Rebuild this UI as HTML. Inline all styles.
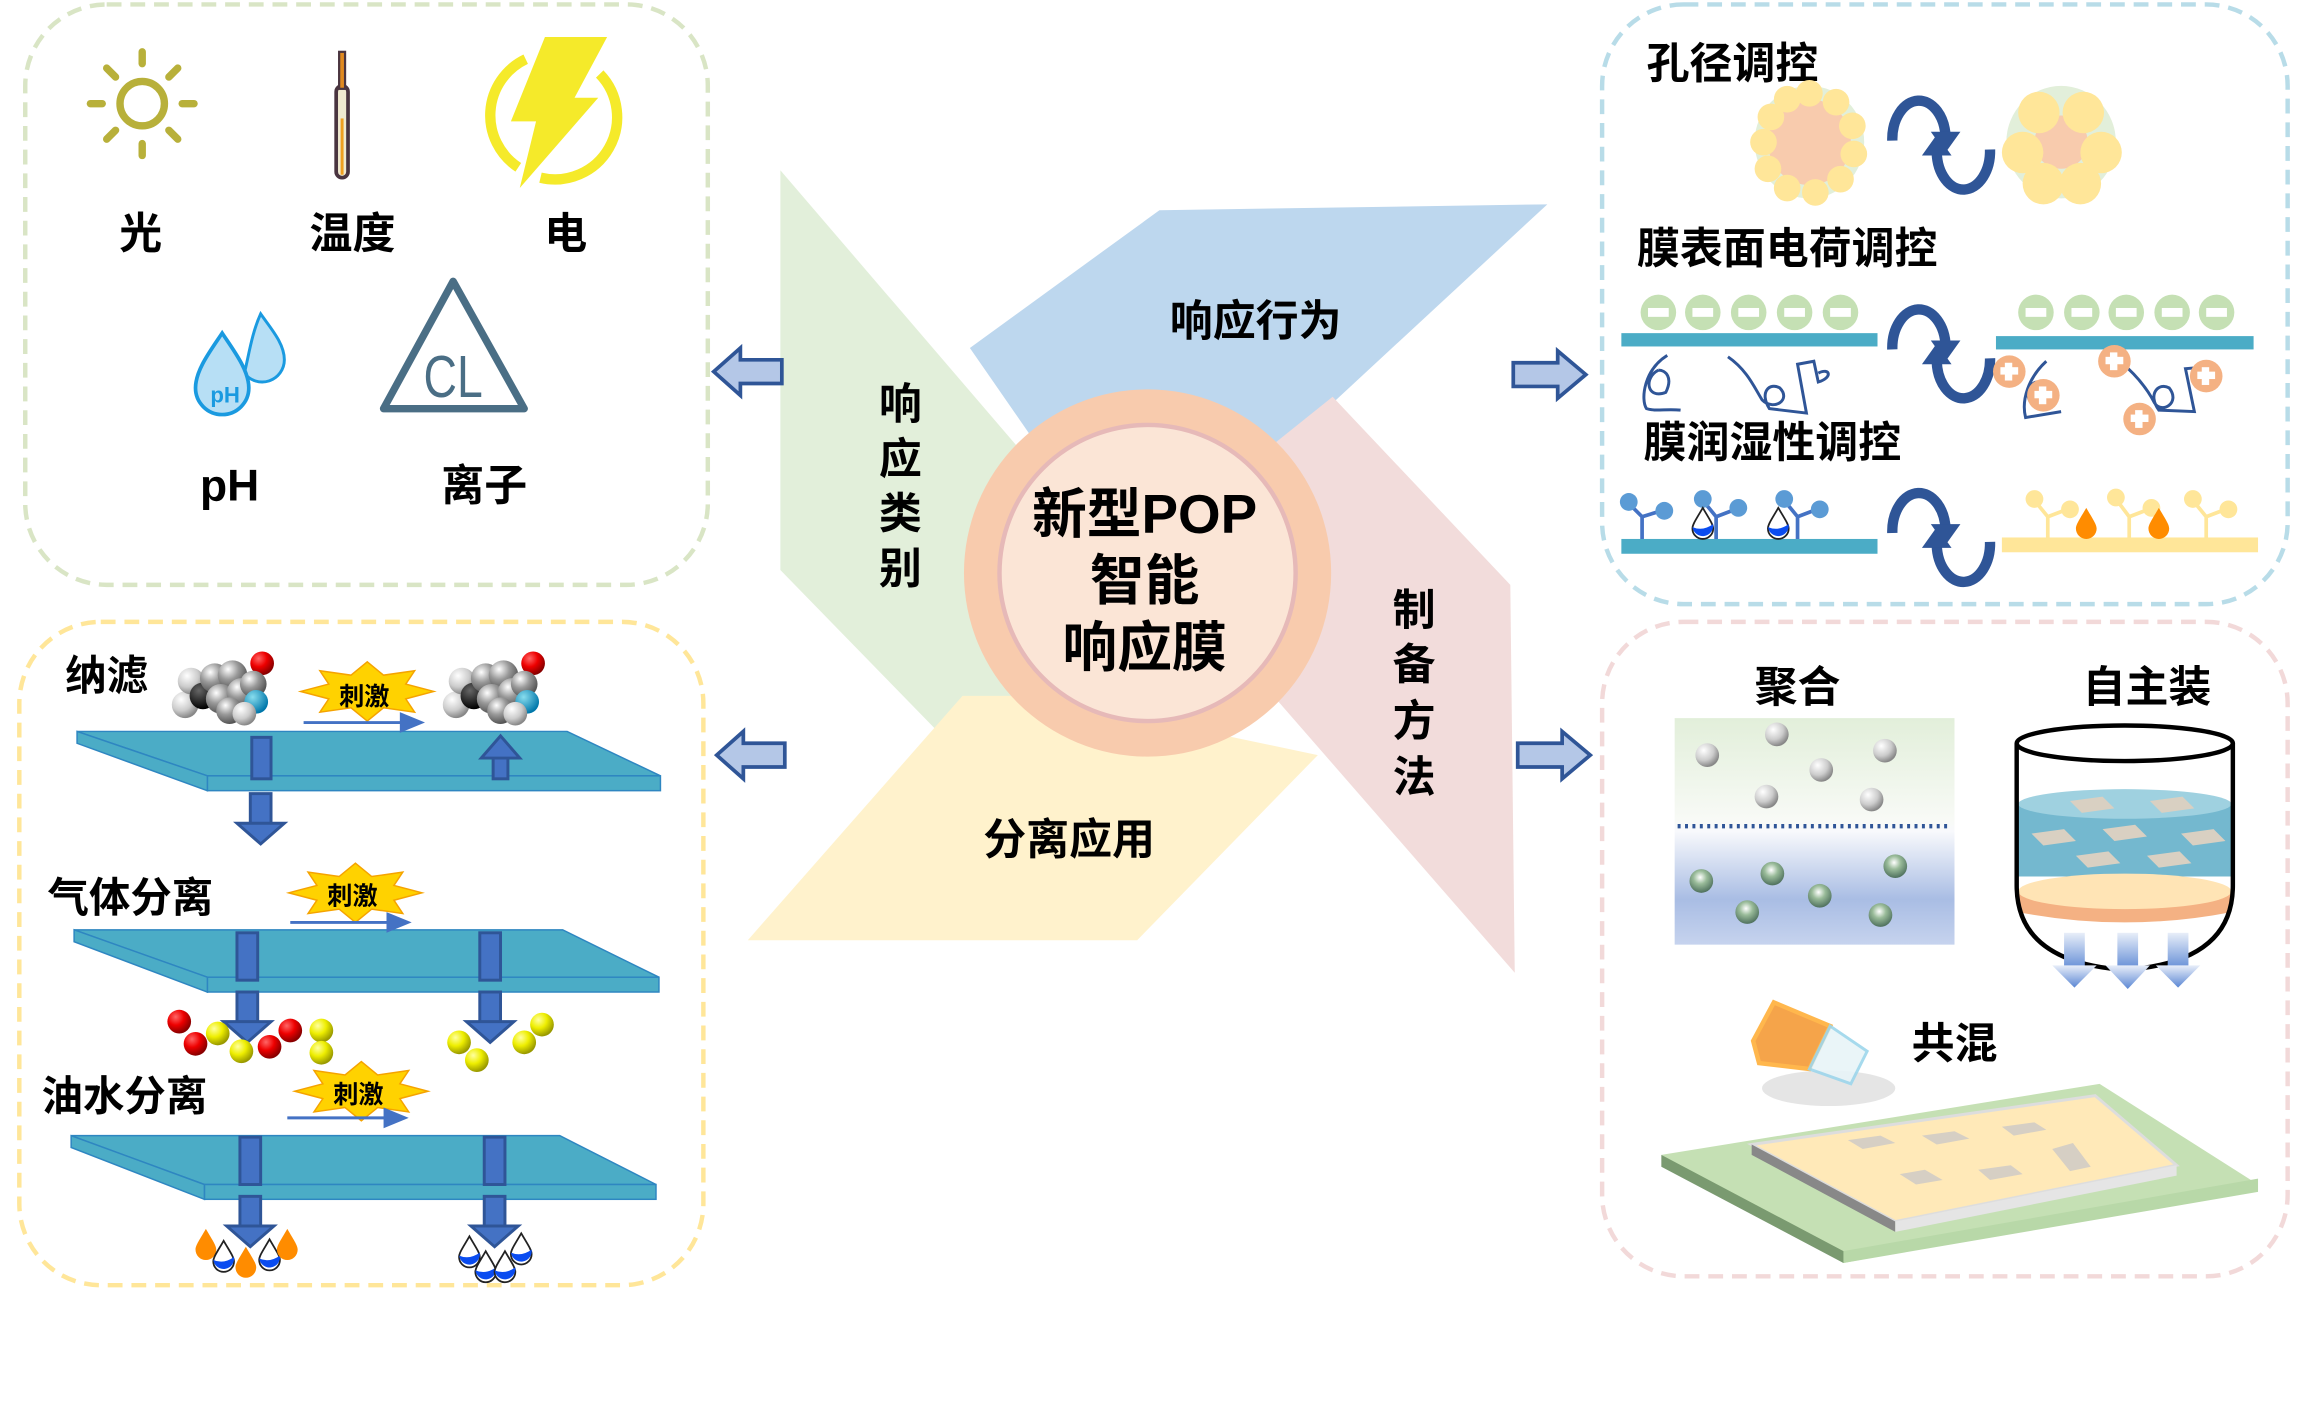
<!DOCTYPE html>
<html><head><meta charset="utf-8">
<style>
html,body{margin:0;padding:0;background:#fff;}
svg{display:block;}
text{font-family:"Liberation Sans","Noto Sans CJK SC",sans-serif;font-weight:bold;fill:#000;}
</style></head>
<body>
<svg width="2304" height="1414" viewBox="0 0 1556 955" xmlns="http://www.w3.org/2000/svg">
<defs>
<radialGradient id="gs" cx="35%" cy="30%" r="70%"><stop offset="0" stop-color="#fff"/><stop offset="0.5" stop-color="#999"/><stop offset="1" stop-color="#555"/></radialGradient>
<radialGradient id="gw" cx="35%" cy="30%" r="70%"><stop offset="0" stop-color="#fff"/><stop offset="0.6" stop-color="#ccc"/><stop offset="1" stop-color="#888"/></radialGradient>
<radialGradient id="gk" cx="35%" cy="30%" r="70%"><stop offset="0" stop-color="#666"/><stop offset="1" stop-color="#000"/></radialGradient>
<radialGradient id="gr" cx="35%" cy="30%" r="70%"><stop offset="0" stop-color="#f66"/><stop offset="0.5" stop-color="#e00"/><stop offset="1" stop-color="#800"/></radialGradient>
<radialGradient id="gy" cx="35%" cy="30%" r="70%"><stop offset="0" stop-color="#ffffa0"/><stop offset="0.5" stop-color="#ee0"/><stop offset="1" stop-color="#990"/></radialGradient>
<radialGradient id="gb" cx="35%" cy="30%" r="70%"><stop offset="0" stop-color="#8de"/><stop offset="1" stop-color="#07a"/></radialGradient>
<radialGradient id="gg" cx="45%" cy="35%" r="70%"><stop offset="0" stop-color="#fff"/><stop offset="0.4" stop-color="#9b9"/><stop offset="1" stop-color="#465"/></radialGradient>
<linearGradient id="pg" x1="0" y1="0" x2="0" y2="1"><stop offset="0" stop-color="#e2efda"/><stop offset="0.45" stop-color="#f8faf6"/><stop offset="0.5" stop-color="#f8f9fc"/><stop offset="0.8" stop-color="#a9bde4"/><stop offset="1" stop-color="#c6d3ee"/></linearGradient>
<linearGradient id="ag" x1="0" y1="0" x2="0" y2="1"><stop offset="0" stop-color="#e8eef9"/><stop offset="1" stop-color="#5b87d4"/></linearGradient>
<g id="star"><polygon points="45,0 26,5 32,14 11,11 0,20 -11,11 -32,14 -26,5 -45,0 -26,-5 -32,-14 -11,-11 0,-20 11,-11 32,-14 26,-5" fill="#ffd200" stroke="#f5a300" stroke-width="1"/></g>
<g id="cyc" fill="none" stroke="#2f5597" stroke-width="7">
<path d="M-32,-2 A18,26 0 0 1 4,-4"/><polygon points="-6,-8 14,-8 4,6" fill="#2f5597" stroke="none"/>
<path d="M34,4 A18,26 0 0 1 -2,6"/><polygon points="-12,8 8,8 -2,-6" fill="#2f5597" stroke="none"/>
</g>
<g id="dar"><rect x="-7" y="0" width="14" height="22" fill="#4472c4" stroke="#2f5597" stroke-width="2"/><polygon points="-16,20 16,20 0,34" fill="#4472c4" stroke="#2f5597" stroke-width="2"/></g>
<g id="mol">
<circle cx="-28" cy="10" r="9" fill="url(#gw)"/><circle cx="-24" cy="-6" r="9" fill="url(#gw)"/>
<circle cx="-16" cy="4" r="9" fill="url(#gk)"/>
<circle cx="-8" cy="-8" r="10" fill="url(#gs)"/><circle cx="4" cy="-10" r="10" fill="url(#gs)"/><circle cx="-4" cy="6" r="10" fill="url(#gs)"/><circle cx="10" cy="2" r="10" fill="url(#gs)"/><circle cx="2" cy="14" r="9" fill="url(#gs)"/>
<circle cx="24" cy="-18" r="8" fill="url(#gr)"/><circle cx="18" cy="-4" r="9" fill="url(#gs)"/><circle cx="20" cy="8" r="8" fill="url(#gb)"/><circle cx="12" cy="16" r="8" fill="url(#gw)"/>
</g>
<g id="wdrop"><path d="M0,-10 C4,-3 7,1 7,4 A7,7 0 0 1 -7,4 C-7,1 -4,-3 0,-10Z" fill="#fff" stroke="#222" stroke-width="1.2"/><path d="M-7,3 Q0,6 7,1 A7,7 0 0 1 -7,3Z" fill="#0a4cf0"/></g>
<g id="odrop"><path d="M0,-10 C4,-3 7,1 7,4 A7,7 0 0 1 -7,4 C-7,1 -4,-3 0,-10Z" fill="#ff8c00"/></g>
</defs>

<!-- dashed boxes -->
<rect x="17" y="3" width="461" height="392" rx="55" fill="none" stroke="#d9e5c5" stroke-width="3" stroke-dasharray="10,6"/>
<rect x="1082" y="3" width="463" height="405" rx="55" fill="none" stroke="#b8dce8" stroke-width="3" stroke-dasharray="10,6"/>
<rect x="13" y="420" width="462" height="448" rx="55" fill="none" stroke="#ffe699" stroke-width="3" stroke-dasharray="10,6"/>
<rect x="1082" y="420" width="463" height="442" rx="55" fill="none" stroke="#f2d9d9" stroke-width="3" stroke-dasharray="10,6"/>

<!-- center pinwheel -->
<polygon points="527,115 690,305 690,510 644,505 527,385" fill="#e2efda"/>
<polygon points="783,142 1045,138 870,300 700,300 655,235" fill="#bdd7ee"/>
<polygon points="900,268 1020,395 1023,657 860,470 860,300" fill="#f2dcdb"/>
<polygon points="505,635 768,635 890,510 700,470 650,470" fill="#fff2cc"/>
<circle cx="775" cy="387" r="124" fill="#f8cbad"/>
<circle cx="775" cy="387" r="100" fill="#fbe5d6" stroke="#e6b9b8" stroke-width="3"/>
<text x="773" y="360" font-size="37" text-anchor="middle">新型POP</text>
<text x="773" y="405" font-size="37" text-anchor="middle">智能</text>
<text x="773" y="450" font-size="37" text-anchor="middle">响应膜</text>
<text x="848" y="227" font-size="29" text-anchor="middle">响应行为</text>
<text x="722" y="577" font-size="29" text-anchor="middle">分离应用</text>
<g font-size="29" text-anchor="middle"><text x="608" y="283">响</text><text x="608" y="320">应</text><text x="608" y="357">类</text><text x="608" y="394">别</text>
<text x="955" y="422">制</text><text x="955" y="459">备</text><text x="955" y="497">方</text><text x="955" y="535">法</text></g>

<!-- block arrows -->
<g fill="#b4c7e7" stroke="#2f5597" stroke-width="2.5">
<polygon points="528,243 500,243 500,235 482,251 500,267 500,259 528,259"/>
<polygon points="530,502 502,502 502,494 484,510 502,526 502,518 530,518"/>
<polygon points="1022,245 1052,245 1052,237 1071,253 1052,269 1052,261 1022,261"/>
<polygon points="1025,502 1055,502 1055,494 1074,510 1055,526 1055,518 1025,518"/>
</g>

<!-- top-left icons -->
<g stroke="#b8b03a" stroke-width="5" stroke-linecap="round" fill="none">
<circle cx="96" cy="70" r="15"/>
<line x1="96" y1="35" x2="96" y2="43"/><line x1="96" y1="97" x2="96" y2="105"/><line x1="61" y1="70" x2="69" y2="70"/><line x1="123" y1="70" x2="131" y2="70"/>
<line x1="72" y1="46" x2="78" y2="52"/><line x1="114" y1="88" x2="120" y2="94"/><line x1="120" y1="46" x2="114" y2="52"/><line x1="78" y1="88" x2="72" y2="94"/>
</g>
<rect x="227" y="58" width="8" height="62" rx="4" fill="#f0ead0" stroke="#4a3540" stroke-width="2.5"/>
<rect x="229" y="35" width="4" height="25" fill="#e08a20" stroke="#4a3540" stroke-width="1.5"/>
<rect x="230" y="80" width="2" height="38" fill="#f0a020"/>
<path d="M355,40 A42,42 0 0 0 350,113" fill="none" stroke="#f5ea2a" stroke-width="7"/>
<path d="M405,50 A42,42 0 0 1 365,120" fill="none" stroke="#f5ea2a" stroke-width="7"/>
<polygon points="368,25 410,25 388,66 404,66 351,127 362,82 345,82" fill="#f5ea2a"/>
<text x="95" y="168" font-size="29" text-anchor="middle">光</text>
<text x="238" y="168" font-size="29" text-anchor="middle">温度</text>
<text x="382" y="168" font-size="29" text-anchor="middle">电</text>
<path d="M176,212 C183,222 192,232 192,243 A15,15 0 0 1 165,252 C168,240 170,225 176,212Z" fill="#b7dff5" stroke="#1a9ae0" stroke-width="2"/>
<path d="M150,225 C158,237 168,250 168,262 A18,18 0 0 1 132,262 C132,250 142,237 150,225Z" fill="#b7dff5" stroke="#1a9ae0" stroke-width="2.5"/>
<text x="152" y="272" font-size="15" style="fill:#1a9ae0" text-anchor="middle">pH</text>
<polygon points="306,190 354,276 259,276" fill="none" stroke="#4a6e85" stroke-width="5" stroke-linejoin="round"/>
<text x="306" y="268" font-size="40" text-anchor="middle" style="fill:#4a6e85;font-weight:normal" textLength="40" lengthAdjust="spacingAndGlyphs">CL</text>
<text x="155" y="338" font-size="30" text-anchor="middle">pH</text>
<text x="327" y="338" font-size="29" text-anchor="middle">离子</text>

<!-- bottom-left -->
<text x="72" y="466" font-size="28" text-anchor="middle">纳滤</text>
<text x="88" y="616" font-size="28" text-anchor="middle">气体分离</text>
<text x="84" y="750" font-size="28" text-anchor="middle">油水分离</text>
<g fill="#4bacc6" stroke="#2e86c1" stroke-width="1">
<polygon points="52,494 383,494 446,524 140,524"/><rect x="140" y="524" width="306" height="10"/><polygon points="52,494 140,524 140,534 52,502"/>
<polygon points="50,628 380,628 445,660 140,660"/><rect x="140" y="660" width="305" height="10"/><polygon points="50,628 140,660 140,670 50,636"/>
<polygon points="48,767 378,767 443,800 138,800"/><rect x="138" y="800" width="305" height="10"/><polygon points="48,767 138,800 138,810 48,775"/>
</g>
<use href="#mol" x="153" y="466"/><use href="#mol" x="336" y="466"/>
<use href="#star" x="248" y="467"/><text x="246" y="476" font-size="17" text-anchor="middle">刺激</text>
<line x1="205" y1="488" x2="272" y2="488" stroke="#4472c4" stroke-width="2"/><polygon points="270,481 287,488 270,495" fill="#4472c4"/>
<use href="#star" x="240" y="603"/><text x="238" y="611" font-size="17" text-anchor="middle">刺激</text>
<line x1="196" y1="623" x2="263" y2="623" stroke="#4472c4" stroke-width="2"/><polygon points="261,616 278,623 261,630" fill="#4472c4"/>
<use href="#star" x="244" y="737"/><text x="242" y="745" font-size="17" text-anchor="middle">刺激</text>
<line x1="194" y1="755" x2="261" y2="755" stroke="#4472c4" stroke-width="2"/><polygon points="259,748 276,755 259,762" fill="#4472c4"/>
<rect x="170" y="498" width="13" height="28" fill="#4472c4" stroke="#2f5597" stroke-width="2"/>
<use href="#dar" x="176" y="536"/>
<g fill="#4472c4" stroke="#2f5597" stroke-width="2"><rect x="333" y="510" width="10" height="16"/><polygon points="325,512 351,512 338,497"/></g>
<rect x="160" y="630" width="14" height="32" fill="#4472c4" stroke="#2f5597" stroke-width="2"/><use href="#dar" x="167" y="670"/>
<rect x="324" y="630" width="14" height="32" fill="#4472c4" stroke="#2f5597" stroke-width="2"/><use href="#dar" x="331" y="670"/>
<rect x="162" y="768" width="14" height="32" fill="#4472c4" stroke="#2f5597" stroke-width="2"/><use href="#dar" x="169" y="808"/>
<rect x="327" y="768" width="14" height="32" fill="#4472c4" stroke="#2f5597" stroke-width="2"/><use href="#dar" x="334" y="808"/>
<g><circle cx="121" cy="690" r="8" fill="url(#gr)"/><circle cx="132" cy="705" r="8" fill="url(#gr)"/><circle cx="147" cy="698" r="8" fill="url(#gy)"/><circle cx="163" cy="710" r="8" fill="url(#gy)"/><circle cx="182" cy="707" r="8" fill="url(#gr)"/><circle cx="196" cy="696" r="8" fill="url(#gr)"/><circle cx="217" cy="696" r="8" fill="url(#gy)"/><circle cx="217" cy="711" r="8" fill="url(#gy)"/>
<circle cx="310" cy="704" r="8" fill="url(#gy)"/><circle cx="322" cy="716" r="8" fill="url(#gy)"/><circle cx="354" cy="704" r="8" fill="url(#gy)"/><circle cx="366" cy="692" r="8" fill="url(#gy)"/></g>
<use href="#odrop" x="139" y="840"/><use href="#wdrop" x="151" y="848"/><use href="#odrop" x="166" y="852"/><use href="#wdrop" x="182" y="847"/><use href="#odrop" x="194" y="840"/>
<use href="#wdrop" x="317" y="845"/><use href="#wdrop" x="328" y="855"/><use href="#wdrop" x="341" y="855"/><use href="#wdrop" x="352" y="843"/>

<!-- top-right -->
<text x="1170" y="53" font-size="29" text-anchor="middle">孔径调控</text>
<text x="1207" y="178" font-size="29" text-anchor="middle">膜表面电荷调控</text>
<text x="1197" y="309" font-size="29" text-anchor="middle">膜润湿性调控</text>
<ellipse cx="1222" cy="96" rx="37" ry="38" fill="#e2efda"/>
<ellipse cx="1222" cy="96" rx="28" ry="29" fill="#f8cbad"/>
<g fill="#ffe699"><circle cx="1222" cy="63" r="9"/><circle cx="1240" cy="69" r="9"/><circle cx="1251" cy="85" r="9"/><circle cx="1252" cy="104" r="9"/><circle cx="1243" cy="121" r="9"/><circle cx="1226" cy="130" r="9"/><circle cx="1207" cy="127" r="9"/><circle cx="1194" cy="114" r="9"/><circle cx="1191" cy="96" r="9"/><circle cx="1196" cy="79" r="9"/><circle cx="1207" cy="67" r="9"/></g>
<ellipse cx="1392" cy="96" rx="37" ry="38" fill="#e2efda"/>
<circle cx="1392" cy="96" r="18" fill="#f8cbad"/>
<g fill="#ffe699"><circle cx="1377" cy="76" r="14"/><circle cx="1407" cy="76" r="14"/><circle cx="1366" cy="103" r="14"/><circle cx="1419" cy="103" r="14"/><circle cx="1380" cy="124" r="14"/><circle cx="1405" cy="124" r="14"/></g>
<use href="#cyc" x="1310" y="97"/><use href="#cyc" x="1310" y="238"/><use href="#cyc" x="1310" y="362"/>
<rect x="1095" y="225" width="173" height="9" fill="#4bacc6"/>
<rect x="1348" y="227" width="174" height="9" fill="#4bacc6"/>
<g fill="#c5e0b4"><circle cx="1120" cy="211" r="12"/><circle cx="1150" cy="211" r="12"/><circle cx="1181" cy="211" r="12"/><circle cx="1212" cy="211" r="12"/><circle cx="1243" cy="211" r="12"/>
<circle cx="1375" cy="211" r="12"/><circle cx="1406" cy="211" r="12"/><circle cx="1436" cy="211" r="12"/><circle cx="1467" cy="211" r="12"/><circle cx="1497" cy="211" r="12"/></g>
<g fill="#fff"><rect x="1113" y="208" width="14" height="6"/><rect x="1143" y="208" width="14" height="6"/><rect x="1174" y="208" width="14" height="6"/><rect x="1205" y="208" width="14" height="6"/><rect x="1236" y="208" width="14" height="6"/>
<rect x="1368" y="208" width="14" height="6"/><rect x="1399" y="208" width="14" height="6"/><rect x="1429" y="208" width="14" height="6"/><rect x="1460" y="208" width="14" height="6"/><rect x="1490" y="208" width="14" height="6"/></g>
<g fill="none" stroke="#2f5597" stroke-width="2">
<path d="M1126,240 C1110,250 1108,270 1112,276 C1118,278 1125,276 1135,277 M1120,250 C1110,255 1112,270 1125,265 C1130,255 1125,250 1120,250"/>
<path d="M1167,241 C1180,250 1185,262 1190,270 C1198,278 1210,270 1202,262 C1195,258 1188,265 1195,276 L1220,279 L1214,246 L1225,244 L1228,258 C1238,255 1236,248 1228,252"/>
<path d="M1382,244 C1370,255 1365,270 1368,282 L1392,278 M1375,258 C1365,262 1370,280 1382,272 C1386,262 1380,258 1375,258"/>
<path d="M1430,243 C1440,250 1450,262 1455,272 C1460,280 1473,272 1465,262 C1458,258 1450,266 1458,277 L1482,278 L1476,249 L1488,248 L1492,262 C1500,258 1498,252 1490,255"/>
</g>
<g fill="#f4b183"><circle cx="1357" cy="251" r="11"/><circle cx="1380" cy="267" r="11"/><circle cx="1428" cy="244" r="11"/><circle cx="1490" cy="254" r="11"/><circle cx="1445" cy="283" r="11"/></g>
<g fill="#fff"><rect x="1351" y="248" width="12" height="5"/><rect x="1354" y="245" width="5" height="12"/><rect x="1374" y="264" width="12" height="5"/><rect x="1377" y="261" width="5" height="12"/><rect x="1422" y="241" width="12" height="5"/><rect x="1425" y="238" width="5" height="12"/><rect x="1484" y="251" width="12" height="5"/><rect x="1487" y="248" width="5" height="12"/><rect x="1439" y="280" width="12" height="5"/><rect x="1442" y="277" width="5" height="12"/></g>
<rect x="1095" y="364" width="173" height="10" fill="#4bacc6"/>
<rect x="1352" y="363" width="173" height="10" fill="#ffe699"/>
<g stroke="#4472c4" stroke-width="2.5" fill="none"><path d="M1109,364 V349 L1100,340 M1109,349 L1122,345"/><path d="M1159,364 V349 L1150,338 M1159,349 L1172,344"/><path d="M1214,364 V349 L1205,338 M1214,349 L1227,344"/></g>
<g fill="#5b9bd5"><circle cx="1100" cy="339" r="6"/><circle cx="1124" cy="345" r="6"/><circle cx="1150" cy="337" r="6"/><circle cx="1174" cy="343" r="6"/><circle cx="1205" cy="337" r="6"/><circle cx="1229" cy="344" r="6"/></g>
<use href="#wdrop" x="1150" y="353"/><use href="#wdrop" x="1201" y="353"/>
<g stroke="#ffe699" stroke-width="2.5" fill="none"><path d="M1383,363 V349 L1374,338 M1383,349 L1396,344"/><path d="M1438,363 V349 L1429,337 M1438,349 L1451,344"/><path d="M1490,363 V349 L1481,338 M1490,349 L1503,344"/></g>
<g fill="#ffe699"><circle cx="1374" cy="337" r="6"/><circle cx="1398" cy="344" r="6"/><circle cx="1429" cy="336" r="6"/><circle cx="1453" cy="343" r="6"/><circle cx="1481" cy="337" r="6"/><circle cx="1505" cy="344" r="6"/></g>
<use href="#odrop" x="1409" y="353"/><use href="#odrop" x="1458" y="353"/>

<!-- bottom-right -->
<text x="1214" y="474" font-size="29" text-anchor="middle">聚合</text>
<text x="1450" y="474" font-size="29" text-anchor="middle">自主装</text>
<text x="1320" y="715" font-size="29" text-anchor="middle">共混</text>
<rect x="1131" y="485" width="189" height="153" fill="url(#pg)"/>
<line x1="1133" y1="558" x2="1318" y2="558" stroke="#2f5597" stroke-width="3" stroke-dasharray="2,3"/>
<g><circle cx="1153" cy="510" r="8" fill="url(#gw)"/><circle cx="1200" cy="496" r="8" fill="url(#gw)"/><circle cx="1230" cy="520" r="8" fill="url(#gw)"/><circle cx="1273" cy="507" r="8" fill="url(#gw)"/><circle cx="1193" cy="538" r="8" fill="url(#gw)"/><circle cx="1264" cy="540" r="8" fill="url(#gw)"/>
<circle cx="1149" cy="595" r="8" fill="url(#gg)"/><circle cx="1197" cy="590" r="8" fill="url(#gg)"/><circle cx="1280" cy="585" r="8" fill="url(#gg)"/><circle cx="1229" cy="605" r="8" fill="url(#gg)"/><circle cx="1180" cy="616" r="8" fill="url(#gg)"/><circle cx="1270" cy="618" r="8" fill="url(#gg)"/></g>
<path d="M1363,543 L1363,592 L1507,592 L1507,543 Z" fill="#74b8cf"/>
<ellipse cx="1435" cy="543" rx="72" ry="10" fill="#9fd1e0"/>
<g fill="#d9d0c2"><polygon points="1398,541 1420,538 1428,546 1406,549"/><polygon points="1452,541 1474,538 1482,546 1460,549"/><polygon points="1372,563 1394,560 1402,568 1380,571"/><polygon points="1420,560 1442,557 1450,565 1428,568"/><polygon points="1473,563 1495,560 1503,568 1481,571"/><polygon points="1402,578 1424,575 1432,583 1410,586"/><polygon points="1450,578 1472,575 1480,583 1458,586"/></g>
<path d="M1363,602 L1363,616 Q1435,630 1507,616 L1507,602 Z" fill="#f4b183"/>
<ellipse cx="1435" cy="602" rx="72" ry="12" fill="#ffe4b5"/>
<path d="M1362,502 L1362,598 Q1362,650 1435,655 Q1508,650 1508,598 L1508,502" fill="none" stroke="#000" stroke-width="3"/>
<ellipse cx="1435" cy="502" rx="73" ry="12" fill="#fff" stroke="#000" stroke-width="3"/>
<g fill="url(#ag)"><rect x="1394" y="630" width="14" height="26"/><polygon points="1386,652 1416,652 1401,667"/><rect x="1430" y="630" width="14" height="26"/><polygon points="1422,652 1452,652 1437,668"/><rect x="1464" y="630" width="14" height="26"/><polygon points="1456,652 1486,652 1471,667"/></g>
<ellipse cx="1235" cy="735" rx="45" ry="12" fill="#ccc" opacity="0.5"/>
<polygon points="1198,677 1236,693 1222,722 1188,718 1184,703" fill="#f5a44a" stroke="#ffb74d" stroke-width="3"/>
<polygon points="1236,693 1261,710 1250,732 1222,722" fill="#e8f4f8" stroke="#9dd6ec" stroke-width="2" opacity="0.9"/>
<polygon points="1122,780 1418,732 1525,800 1245,853" fill="#c5e0b4"/>
<polygon points="1122,780 1245,845 1245,853 1122,788" fill="#7a9a70"/>
<polygon points="1245,845 1525,796 1525,805 1245,853" fill="#b8d8a8"/>
<polygon points="1183,773 1415,740 1470,787 1280,825" fill="#ffe9b8" stroke="#ddd" stroke-width="2"/>
<polygon points="1183,773 1280,825 1280,832 1183,780" fill="#888"/>
<polygon points="1280,825 1470,787 1470,794 1280,832" fill="#e5e5e5"/>
<g fill="#d6cfc4"><polygon points="1248,770 1270,767 1280,772 1258,776"/><polygon points="1298,767 1320,764 1330,769 1308,773"/><polygon points="1352,761 1374,758 1382,763 1360,767"/><polygon points="1283,793 1300,790 1312,797 1294,800"/><polygon points="1336,790 1358,787 1366,793 1344,797"/><polygon points="1386,776 1400,772 1412,788 1398,791"/></g>
</svg>
</body></html>
